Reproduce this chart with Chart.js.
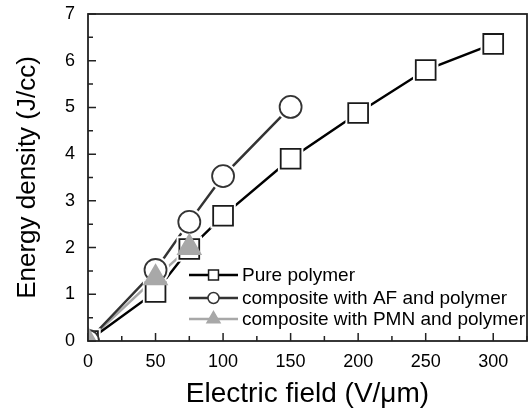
<!DOCTYPE html>
<html>
<head>
<meta charset="utf-8">
<script src="https://cdn.jsdelivr.net/npm/chart.js@4/dist/chart.umd.min.js"></script>
<style>
    html, body { margin: 0; padding: 0; overflow: hidden; background: #fff; }
    #wrap { width: 530px; height: 412px; position: relative; }
    #wrap canvas { display: block; }
</style>
</head>
<body>
<div id="wrap"><canvas id="chart"></canvas></div>
<script>
// values
const seriesNames = ["Pure polymer", "composite with AF and polymer", "composite with PMN and polymer"];
const fieldPure = [0, 50, 75, 100, 150, 200, 250, 300];
const energyPure = [0, 1.05, 1.97, 2.68, 3.9, 4.88, 5.8, 6.36];
const fieldAF = [0, 50, 75, 100, 150];
const energyAF = [0, 1.52, 2.55, 3.53, 5.01];
const fieldPMN = [0, 50, 75];
const energyPMN = [0, 1.35, 2.0];
const xTickValues = [0, 50, 100, 150, 200, 250, 300];

const FONT = "'Liberation Sans', Arial, sans-serif";

const toPoints = (xs, ys) => xs.map((x, i) => ({x: x, y: ys[i]}));

const styles = [
    {line: "#000000", fill: "#ffffff", border: "#1a1a1a", shape: "rect", r: 14, lr: 7},
    {line: "#333333", fill: "#ffffff", border: "#333333", shape: "circle", r: 11, lr: 5.5},
    {line: "#a8a8a8", fill: "#a8a8a8", border: "#a8a8a8", shape: "triangle", r: 13, lr: 7.5}
];
const seriesData = [
    toPoints(fieldPure, energyPure),
    toPoints(fieldAF, energyAF),
    toPoints(fieldPMN, energyPMN)
];

let datasets = [];
seriesData.forEach((pts, i) => {
    const s = styles[i];
    // line only, drawn first
    datasets.push({
        label: seriesNames[i], data: pts, order: 10 + i, showLine: true,
        borderColor: s.line, borderWidth: 2.5, pointRadius: 0, fill: false, clip: 0
    });
    // white halo so the line stops short of the symbol
    if (i < 2) {
        datasets.push({
            label: "", data: pts, order: 5 + i, showLine: false,
            pointStyle: s.shape, pointRadius: s.r + (s.shape === "rect" ? 4 : 3),
            pointBackgroundColor: "#ffffff", pointBorderWidth: 0, pointBorderColor: "#ffffff", clip: 0
        });
    }
    // symbols
    datasets.push({
        label: "", data: pts, order: 2 - i, showLine: false,
        pointStyle: s.shape, pointRadius: s.r,
        pointBackgroundColor: s.fill, pointBorderColor: s.border, pointBorderWidth: 1.8, clip: 0
    });
});

const frameAndLegend = {
    id: "frameAndLegend",
    beforeDatasetsDraw(chart) {
        const ctx = chart.ctx;
        const a = chart.chartArea;
        const xs = chart.scales.x, ys = chart.scales.y;
        ctx.save();
        ctx.strokeStyle = "#222";
        ctx.lineWidth = 1.5;
        ctx.beginPath();
        for (let v = 0; v <= 325; v += 25) {
            const px = xs.getPixelForValue(v);
            ctx.moveTo(px, a.bottom);
            ctx.lineTo(px, a.bottom - (v % 50 === 0 ? 8 : 5));
        }
        for (let v = 0; v <= 7; v += 0.5) {
            const py = ys.getPixelForValue(v);
            ctx.moveTo(a.left, py);
            ctx.lineTo(a.left + (v % 1 === 0 ? 8 : 5), py);
        }
        ctx.stroke();
        ctx.restore();
    },
    afterDatasetsDraw(chart) {
        const ctx = chart.ctx;
        const a = chart.chartArea;
        ctx.save();
        ctx.strokeStyle = "#222";
        ctx.lineWidth = 1.8;
        ctx.strokeRect(a.left, a.top, a.right - a.left, a.bottom - a.top);

        // legend
        const x0 = a.left + 101, rowY = [a.top + 261, a.top + 284, a.top + 305];
        ctx.font = "19px " + FONT;
        ctx.textBaseline = "middle";
        ctx.fillStyle = "#000";
        seriesNames.forEach((name, i) => {
            const s = styles[i];
            const y = rowY[i];
            ctx.strokeStyle = s.line;
            ctx.lineWidth = 2.5;
            ctx.beginPath();
            ctx.moveTo(x0, y);
            ctx.lineTo(x0 + 49, y);
            ctx.stroke();
            ctx.fillStyle = s.fill;
            ctx.strokeStyle = s.border;
            ctx.lineWidth = 1.5;
            Chart.helpers.drawPoint(ctx, {pointStyle: s.shape, radius: s.lr, borderWidth: 1.5}, x0 + 24.5, y);
            ctx.fillStyle = "#000";
            ctx.fillText(name, x0 + 53, y + 1);
        });
        ctx.restore();
    }
};

new Chart(document.getElementById("chart"), {
    type: "scatter",
    data: {datasets: datasets},
    options: {
        responsive: true,
        maintainAspectRatio: false,
        animation: false,
        layout: {autoPadding: false, padding: {top: 14, right: 3, left: 0, bottom: 0}},
        plugins: {legend: {display: false}, tooltip: {enabled: false}},
        scales: {
            x: {
                type: "linear", min: 0, max: 325,
                grid: {display: false, drawTicks: false},
                border: {display: false},
                afterBuildTicks: (s) => { s.ticks = xTickValues.map(v => ({value: v})); },
                afterFit: (s) => { s.height = 71; s.paddingLeft = 0; s.paddingRight = 0; },
                ticks: {padding: 10, color: "#000", font: {family: FONT, size: 18}, maxRotation: 0},
                title: {display: true, text: "Electric field (V/\u03bcm)", color: "#000",
                    font: {family: FONT, size: 28}, padding: {top: 0, bottom: 1}}
            },
            y: {
                type: "linear", min: 0, max: 7,
                grid: {display: false, drawTicks: false},
                border: {display: false},
                afterFit: (s) => { s.width = 88; s.paddingTop = 0; s.paddingBottom = 0; },
                ticks: {stepSize: 1, padding: 13, color: "#000", font: {family: FONT, size: 18}},
                title: {display: true, text: "Energy density (J/cc)", color: "#000",
                    font: {family: FONT, size: 26}, padding: {top: 12, bottom: 0}}
            }
        }
    },
    plugins: [frameAndLegend]
});
</script>
</body>
</html>
